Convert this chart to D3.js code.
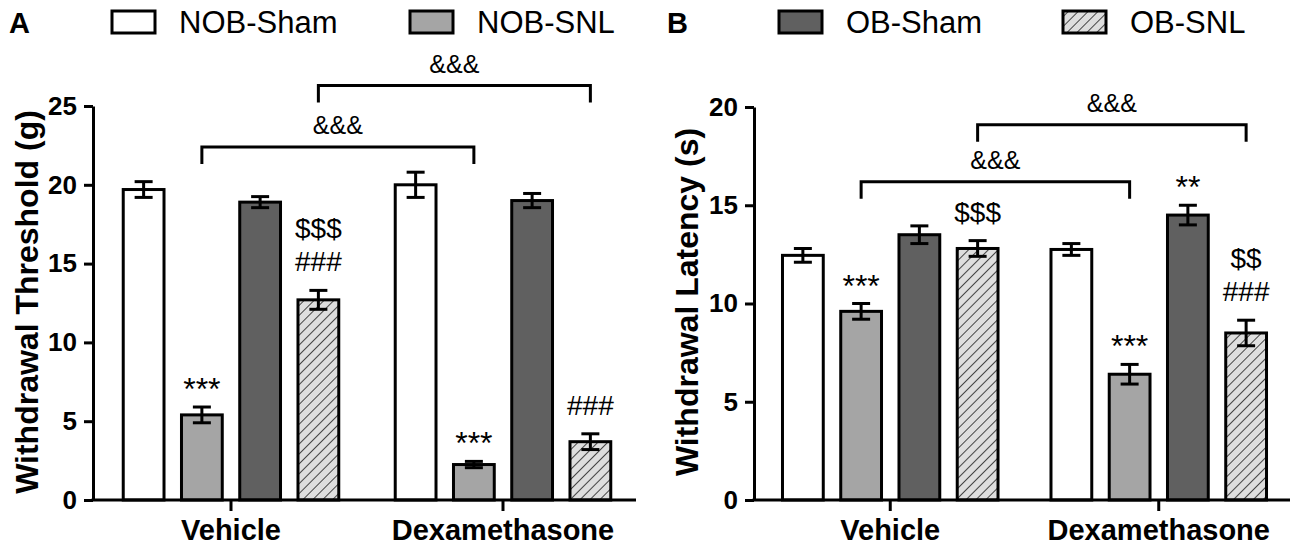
<!DOCTYPE html>
<html>
<head>
<meta charset="utf-8">
<script src="https://cdn.jsdelivr.net/npm/d3@7"></script>
<style>
  body { margin: 0; background: #fff; }
  text { font-family: "Liberation Sans", Arial, sans-serif; }
</style>
</head>
<body>
<script>
// values (mean and sem per group)
var categories = ["Vehicle", "Dexamethasone"];
var groups = ["NOB-Sham", "NOB-SNL", "OB-Sham", "OB-SNL"];
var groupFill = ["#ffffff", "#a5a5a5", "#606060", "url(#hatch)"];

var thresholdMean = [[19.7, 5.4, 18.9, 12.7], [20.0, 2.25, 19.0, 3.7]];
var thresholdSem = [[0.5, 0.5, 0.35, 0.6], [0.8, 0.2, 0.45, 0.5]];
var thresholdTicks = [0, 5, 10, 15, 20, 25];

var latencyMean = [[12.45, 9.6, 13.5, 12.8], [12.75, 6.4, 14.5, 8.5]];
var latencySem = [[0.35, 0.4, 0.45, 0.4], [0.3, 0.5, 0.5, 0.65]];
var latencyTicks = [0, 5, 10, 15, 20];

// significance marks: category, group, lines from bottom to top
var thresholdMarks = [[0, 1, ["***"]], [0, 3, ["###", "$$$"]], [1, 1, ["***"]], [1, 3, ["###"]]];
var latencyMarks = [[0, 1, ["***"]], [0, 3, ["$$$"]], [1, 1, ["***"]], [1, 2, ["**"]], [1, 3, ["###", "$$"]]];

// brackets: from group, to group (vehicle -> dexamethasone), height in data units
var thresholdBrackets = [[1, 1, 22.4], [3, 3, 26.3]];
var latencyBrackets = [[1, 1, 16.2], [3, 3, 19.1]];

var W = 1300, H = 548;
var svg = d3.select("body").append("svg")
  .attr("width", W)
  .attr("height", H);

//hatch pattern for OB-SNL
var pat = svg.append("defs").append("pattern")
  .attr("id", "hatch")
  .attr("patternUnits", "userSpaceOnUse")
  .attr("width", 7)
  .attr("height", 7)
  .attr("patternTransform", "rotate(45)");
pat.append("rect").attr("width", 7).attr("height", 7).attr("fill", "#dedede");
pat.append("line").attr("x1", 0).attr("y1", 0).attr("x2", 0).attr("y2", 7)
  .attr("stroke", "#444").attr("stroke-width", 2);

function drawPanel(p) {
  var g = svg.append("g");

  var y = d3.scaleLinear().domain([0, p.ymax]).range([p.bottom, p.top]);
  var x0 = d3.scaleBand().domain(categories).range([p.left + 2, p.right + 3]);
  var x1 = d3.scaleBand().domain(groups)
    .range([-116.5, 116.5])
    .paddingInner(0.3)
    .paddingOuter(0.15);

  function cx(ci, gi) {
    return x0(categories[ci]) + x0.bandwidth() / 2 + x1(groups[gi]) + x1.bandwidth() / 2;
  }

  // y axis
  var yAxis = d3.axisLeft(y).tickValues(p.ticks).tickSize(9).tickPadding(7).tickSizeOuter(0);
  var ya = g.append("g").attr("transform", "translate(" + p.left + ",0)").call(yAxis);
  ya.select(".domain").attr("stroke", "#000").attr("stroke-width", 3);
  ya.selectAll(".tick line").attr("stroke", "#000").attr("stroke-width", 3);
  ya.selectAll(".tick text")
    .attr("font-size", 26).attr("font-weight", "bold").attr("fill", "#000")
    .attr("font-family", "Liberation Sans, Arial, sans-serif");

  // bars
  categories.forEach(function(cat, ci) {
    g.selectAll(null)
      .data(p.mean[ci])
      .enter()
      .append("rect")
      .attr("x", function(d, i) { return cx(ci, i) - x1.bandwidth() / 2; })
      .attr("y", function(d) { return y(d); })
      .attr("width", x1.bandwidth())
      .attr("height", function(d) { return y(0) - y(d); })
      .attr("fill", function(d, i) { return groupFill[i]; })
      .attr("stroke", "#000")
      .attr("stroke-width", 3);

    // error bars
    var eb = g.selectAll(null)
      .data(p.mean[ci])
      .enter()
      .append("g")
      .attr("stroke", "#000")
      .attr("stroke-width", 3);
    eb.append("line")
      .attr("x1", function(d, i) { return cx(ci, i); })
      .attr("x2", function(d, i) { return cx(ci, i); })
      .attr("y1", function(d, i) { return y(d - p.sem[ci][i]); })
      .attr("y2", function(d, i) { return y(d + p.sem[ci][i]); });
    [-1, 1].forEach(function(s) {
      eb.append("line")
        .attr("x1", function(d, i) { return cx(ci, i) - 9; })
        .attr("x2", function(d, i) { return cx(ci, i) + 9; })
        .attr("y1", function(d, i) { return y(d + s * p.sem[ci][i]); })
        .attr("y2", function(d, i) { return y(d + s * p.sem[ci][i]); });
    });
  });

  // x axis (drawn after bars so it sits on top)
  g.append("line")
    .attr("x1", p.left - 1.5).attr("x2", p.right)
    .attr("y1", y(0)).attr("y2", y(0))
    .attr("stroke", "#000").attr("stroke-width", 3);
  g.selectAll(null)
    .data(categories)
    .enter()
    .append("line")
    .attr("x1", function(d) { return x0(d) + x0.bandwidth() / 2; })
    .attr("x2", function(d) { return x0(d) + x0.bandwidth() / 2; })
    .attr("y1", y(0))
    .attr("y2", y(0) + 11)
    .attr("stroke", "#000").attr("stroke-width", 3);
  g.selectAll(null)
    .data(categories)
    .enter()
    .append("text")
    .text(function(d) { return d; })
    .attr("x", function(d) { return x0(d) + x0.bandwidth() / 2; })
    .attr("y", y(0) + 40)
    .attr("text-anchor", "middle")
    .attr("font-size", 29)
    .attr("font-weight", "bold");

  // y title
  g.append("text")
    .text(p.title)
    .attr("transform", "translate(" + p.titleX + "," + p.titleY + ") rotate(-90)")
    .attr("text-anchor", "middle")
    .attr("font-size", 32)
    .attr("font-weight", "bold");

  // significance marks
  p.marks.forEach(function(m) {
    var top = y(p.mean[m[0]][m[1]] + p.sem[m[0]][m[1]]);
    m[2].forEach(function(s, k) {
      var star = s.charAt(0) == "*";
      g.append("text")
        .text(s)
        .attr("x", cx(m[0], m[1]))
        .attr("y", top - (star ? 7 : 19) - k * 33)
        .attr("text-anchor", "middle")
        .attr("font-size", star ? 32 : 28);
    });
  });

  // brackets between vehicle and dexamethasone
  p.brackets.forEach(function(b) {
    var xa = cx(0, b[0]), xb = cx(1, b[1]), yb = y(b[2]);
    g.append("path")
      .attr("d", "M" + xa + "," + (yb + 17) + "V" + yb + "H" + xb + "V" + (yb + 17))
      .attr("fill", "none")
      .attr("stroke", "#000")
      .attr("stroke-width", 3);
    g.append("text")
      .text("&&&")
      .attr("x", (xa + xb) / 2)
      .attr("y", yb - 13)
      .attr("text-anchor", "middle")
      .attr("font-size", 25);
  });

  // legend
  p.legend.forEach(function(gi, k) {
    var lx = p.legendX[k];
    g.append("rect")
      .attr("x", lx).attr("y", 11)
      .attr("width", 43).attr("height", 22)
      .attr("fill", groupFill[gi])
      .attr("stroke", "#000").attr("stroke-width", 3);
    g.append("text")
      .text(groups[gi])
      .attr("x", lx + 67)
      .attr("y", 33)
      .attr("font-size", 31);
  });

  // panel letter
  g.append("text")
    .text(p.letter)
    .attr("x", p.letterX)
    .attr("y", 33)
    .attr("font-size", 29)
    .attr("font-weight", "bold");
}

drawPanel({
  letter: "A", letterX: 9,
  title: "Withdrawal Threshold (g)", titleX: 38, titleY: 302,
  mean: thresholdMean, sem: thresholdSem, ticks: thresholdTicks, ymax: 25,
  marks: thresholdMarks, brackets: thresholdBrackets,
  legend: [0, 1], legendX: [112, 410],
  left: 93, right: 636, top: 106, bottom: 500
});

drawPanel({
  letter: "B", letterX: 667,
  title: "Withdrawal Latency (s)", titleX: 698, titleY: 302,
  mean: latencyMean, sem: latencySem, ticks: latencyTicks, ymax: 20,
  marks: latencyMarks, brackets: latencyBrackets,
  legend: [2, 3], legendX: [779, 1063],
  left: 754, right: 1290, top: 107, bottom: 500
});
</script>
</body>
</html>
